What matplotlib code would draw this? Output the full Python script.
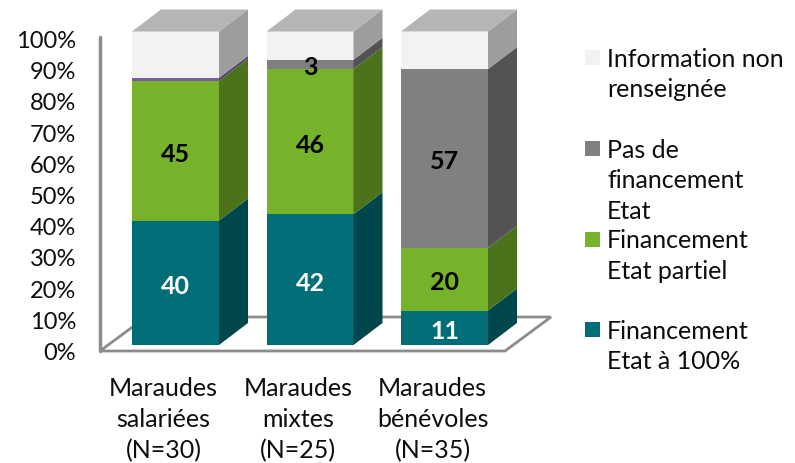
import matplotlib
matplotlib.use("Agg")
import matplotlib.pyplot as plt
from matplotlib.patches import Polygon, Rectangle

plt.rcParams['font.family'] = ['Lato', 'DejaVu Sans']

categories = ["Maraudes\nsalariées\n(N=30)", "Maraudes\nmixtes\n(N=25)", "Maraudes\nbénévoles\n(N=35)"]
y_ticks = [0, 10, 20, 30, 40, 50, 60, 70, 80, 90, 100]

full_funding = [39.7, 41.7, 11]
partial_funding = [44.6, 46.3, 20]
other = [0.9, 0, 0]
no_funding = [0, 3, 57]
no_info = [14.8, 9, 12]

labels_full = ["40", "42", "11"]
labels_partial = ["45", "46", "20"]
labels_none = ["", "3", "57"]

legend_labels = ["Information non\nrenseignée", "Pas de\nfinancement\nEtat", "Financement\nEtat partiel", "Financement\nEtat à 100%"]

# front colour, side colour
C_TEAL = ("#006D77", "#00474D")
C_GREEN = ("#76B22A", "#4C731C")
C_PURPLE = ("#7A5C9C", "#54406C")
C_GRAY = ("#808080", "#535353")
C_WHITE = ("#F2F2F2", "#9D9D9D")
C_TOP = "#B5B5B5"
C_AXIS = "#8C8C8C"
C_TEXT = "#0D0D0D"

# scale of the data axes, in pixels
PX_X = 134.5
PX_Y = 3.135
BAR_W = 87 / PX_X
DX = 29 / PX_X
DY = 22 / PX_Y
LABEL_SHIFT = -3.5 / PX_Y


def px_x(p):
    return (p - 175.5) / PX_X


def px_y(p):
    return (345 - p) / PX_Y


fig = plt.figure(figsize=(7.95, 4.63), dpi=100)
ax = fig.add_axes([0, 0, 1, 1])
ax.set_xlim(px_x(0), px_x(795))
ax.set_ylim(px_y(463), px_y(0))
ax.axis("off")

# floor and y axis
floor = [(px_x(100), px_y(351)), (px_x(505), px_y(351)), (px_x(551), px_y(317)), (px_x(146), px_y(317))]
ax.add_patch(Polygon(floor, closed=True, fill=False, ec=C_AXIS, lw=2, zorder=1))
ax.plot([px_x(100), px_x(100)], [px_y(351), px_y(37)], color=C_AXIS, lw=2.5, zorder=1, solid_capstyle="round")


def draw_segment(x, bottom, height, colors):
    if height == 0:
        return
    left = x - BAR_W / 2
    right = x + BAR_W / 2
    top = bottom + height
    ax.add_patch(Rectangle((left, bottom), BAR_W, height, fc=colors[0], ec="none", zorder=3))
    side = [(right, bottom), (right + DX, bottom + DY), (right + DX, top + DY), (right, top)]
    ax.add_patch(Polygon(side, closed=True, fc=colors[1], ec="none", zorder=3))


series = [(full_funding, C_TEAL), (partial_funding, C_GREEN), (other, C_PURPLE), (no_funding, C_GRAY), (no_info, C_WHITE)]
for i in range(len(categories)):
    bottom = 0
    for values, colors in series:
        draw_segment(i, bottom, values[i], colors)
        bottom += values[i]
    left = i - BAR_W / 2
    lid = [(left, bottom), (left + BAR_W, bottom), (left + BAR_W + DX, bottom + DY), (left + DX, bottom + DY)]
    ax.add_patch(Polygon(lid, closed=True, fc=C_TOP, ec="none", zorder=3))

    ax.text(i, full_funding[i] / 2 + LABEL_SHIFT, labels_full[i], color="white", fontsize=18, fontweight="bold",
            ha="center", va="center", zorder=5)
    ax.text(i, full_funding[i] + partial_funding[i] / 2 + LABEL_SHIFT, labels_partial[i], color="black", fontsize=18,
            fontweight="bold", ha="center", va="center", zorder=5)
    ax.text(i, full_funding[i] + partial_funding[i] + other[i] + no_funding[i] / 2 + LABEL_SHIFT, labels_none[i],
            color="black", fontsize=18, fontweight="bold", ha="center", va="center", zorder=5)
    ax.text(i - 12 / PX_X, px_y(420), categories[i], color=C_TEXT, fontsize=18, ha="center", va="center",
            linespacing=1.42)

for t in y_ticks:
    ax.text(px_x(76), px_y(353.5 - t * 3.12), str(t) + "%", color=C_TEXT, fontsize=17, ha="right", va="center")

# legend
legend_colors = [C_WHITE[0], C_GRAY[0], C_GREEN[0], C_TEAL[0]]
legend_box_y = [50, 141, 232, 322]
legend_text_y = [74.5, 181, 256, 346.5]
for color, by, ty, label in zip(legend_colors, legend_box_y, legend_text_y, legend_labels):
    ax.add_patch(Rectangle((px_x(585), px_y(by + 15)), 15 / PX_X, 15 / PX_Y, fc=color, ec="none"))
    ax.text(px_x(607), px_y(ty), label, color=C_TEXT, fontsize=18, ha="left", va="center", linespacing=1.42)

fig.savefig("out.png", dpi=100)
